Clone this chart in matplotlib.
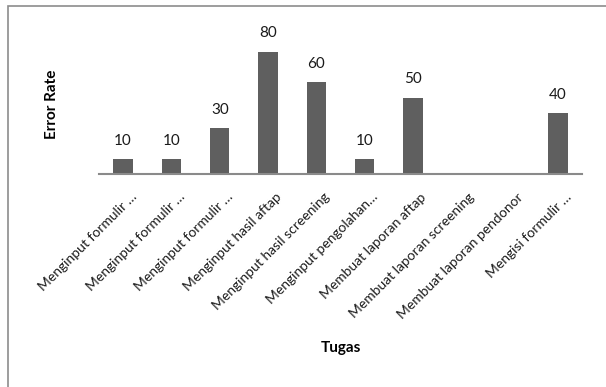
import matplotlib
matplotlib.use('Agg')
import matplotlib.pyplot as plt
from matplotlib.patches import Rectangle
from matplotlib.transforms import ScaledTranslation

tasks = [
    'Menginput formulir …',
    'Menginput formulir …',
    'Menginput formulir …',
    'Menginput hasil aftap',
    'Menginput hasil screening',
    'Menginput pengolahan…',
    'Membuat laporan aftap',
    'Membuat laporan screening',
    'Membuat laporan pendonor',
    'Mengisi formulir …',
]
error_rate = [10, 10, 30, 80, 60, 10, 50, 0, 0, 40]

plt.rcParams['font.family'] = ['Lato', 'DejaVu Sans']

fig = plt.figure(figsize=(6.06, 3.87), dpi=100)
W, H = 606, 387

# outer chart frame
fig.patches.append(Rectangle((8 / W, -0.01), 0.99, 1 - 6 / H + 0.01,
                             transform=fig.transFigure, fill=False,
                             edgecolor='#8c8c8c', linewidth=1.2))

ax = fig.add_axes([99 / W, (H - 174) / H, 483 / W, 137.7 / H])
x = range(len(tasks))
bars = ax.bar(x, error_rate, width=0.4, color='#5f5f5f')

for b, v in zip(bars, error_rate):
    if v > 0:
        ax.annotate(str(v), (b.get_x() + b.get_width() / 2, v),
                    xytext=(0, 8), textcoords='offset points',
                    ha='center', va='bottom', fontsize=11, color='#1a1a1a')

ax.set_xlim(-0.5, len(tasks) - 0.5)
ax.set_ylim(0, 90)
for s in ['top', 'right', 'left']:
    ax.spines[s].set_visible(False)
ax.spines['bottom'].set_color('#8a8a8a')
ax.spines['bottom'].set_linewidth(1.5)
ax.set_yticks([])
ax.set_xticks(list(x))
ax.set_xticklabels(tasks, rotation=45, ha='right', rotation_mode='anchor',
                   fontsize=10, color='#1a1a1a')
ax.tick_params(axis='x', length=0, pad=12)
shift = ScaledTranslation(7 / 100, 0, fig.dpi_scale_trans)
for lbl in ax.get_xticklabels():
    lbl.set_transform(lbl.get_transform() + shift)

fig.text(52 / W, 1 - 104 / H, 'Error Rate', rotation=90, ha='center',
         va='center', fontsize=11, fontweight='bold')
fig.text(341 / W, 1 - 348 / H, 'Tugas', ha='center', va='center',
         fontsize=11, fontweight='bold')

fig.savefig('out.png', dpi=100)
